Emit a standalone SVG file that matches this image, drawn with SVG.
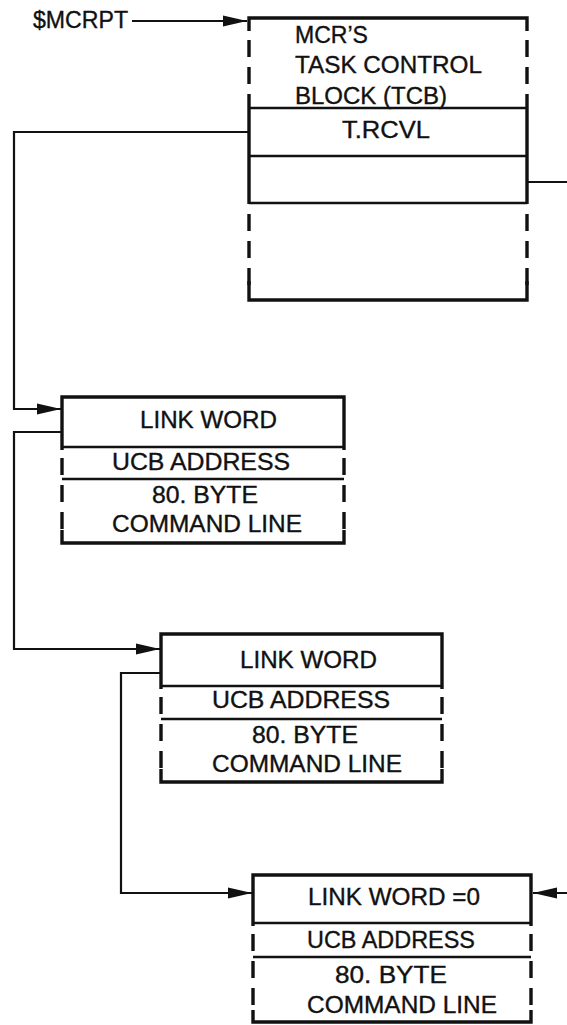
<svg xmlns="http://www.w3.org/2000/svg" width="567" height="1025" viewBox="0 0 567 1025">
  <style>
    .lbl { font-family: "Liberation Sans", Arial, sans-serif; font-size: 23px; fill: #111; stroke: #111; stroke-width: 0.35; }
    .edge { fill: none; stroke: #111; stroke-width: 3.4; stroke-linecap: butt; }
    .dash { fill: none; stroke: #111; stroke-width: 3.4; stroke-dasharray: 17 10; }
    .div { fill: none; stroke: #111; stroke-width: 2.6; }
    .conn { fill: none; stroke: #111; stroke-width: 2.2; }
  </style>
  <defs>
    <marker id="arrow" markerUnits="userSpaceOnUse" markerWidth="26" markerHeight="13" refX="24" refY="6" orient="auto">
      <path d="M0,0.5 L24,6 L0,11.5 Z" fill="#111"/>
    </marker>
  </defs>
  <rect width="567" height="1025" fill="#fff"/>

  <!-- pointer label -->
  <g id="mcrpt">
    <text class="lbl" x="33" y="28" textLength="95" lengthAdjust="spacingAndGlyphs">$MCRPT</text>
  </g>

  <!-- MCR task control block -->
  <g id="tcb">
    <path class="edge" d="M249,31 V18 H527 V31"/>
    <path class="dash" d="M249,40 V107 M527,40 V107"/>
    <path class="edge" d="M249,107 V204 M527,107 V204"/>
    <path class="dash" d="M249,214 V288 M527,214 V288"/>
    <path class="edge" d="M249,281 V300 H527 V281"/>
    <path class="div" d="M249,108 H527 M249,156 H527 M249,203 H527"/>
    <text class="lbl" x="295" y="43" textLength="73" lengthAdjust="spacingAndGlyphs">MCR’S</text>
    <text class="lbl" x="295" y="73" textLength="187" lengthAdjust="spacingAndGlyphs">TASK CONTROL</text>
    <text class="lbl" x="295" y="104" textLength="152" lengthAdjust="spacingAndGlyphs">BLOCK (TCB)</text>
    <text class="lbl" x="342" y="138" textLength="88" lengthAdjust="spacingAndGlyphs">T.RCVL</text>
  </g>

  <!-- first queued command -->
  <g id="node1">
    <path class="edge" d="M62,450 V397 H344 V450"/>
    <path class="dash" d="M62,458 V532 M344,458 V532"/>
    <path class="edge" d="M62,530 V543 H344 V530"/>
    <path class="div" d="M62,447 H344 M62,479 H344"/>
    <text class="lbl" x="140" y="428" textLength="137" lengthAdjust="spacingAndGlyphs">LINK WORD</text>
    <text class="lbl" x="112" y="470" textLength="178" lengthAdjust="spacingAndGlyphs">UCB ADDRESS</text>
    <text class="lbl" x="152" y="503" textLength="106" lengthAdjust="spacingAndGlyphs">80. BYTE</text>
    <text class="lbl" x="112" y="532" textLength="190" lengthAdjust="spacingAndGlyphs">COMMAND LINE</text>
  </g>

  <!-- second queued command -->
  <g id="node2">
    <path class="edge" d="M161,689 V634 H442 V689"/>
    <path class="dash" d="M161,697 V771 M442,697 V771"/>
    <path class="edge" d="M161,769 V782 H442 V769"/>
    <path class="div" d="M161,686 H442 M161,719 H442"/>
    <text class="lbl" x="240" y="668" textLength="137" lengthAdjust="spacingAndGlyphs">LINK WORD</text>
    <text class="lbl" x="212" y="708" textLength="178" lengthAdjust="spacingAndGlyphs">UCB ADDRESS</text>
    <text class="lbl" x="252" y="743" textLength="106" lengthAdjust="spacingAndGlyphs">80. BYTE</text>
    <text class="lbl" x="212" y="772" textLength="190" lengthAdjust="spacingAndGlyphs">COMMAND LINE</text>
  </g>

  <!-- last queued command -->
  <g id="node3">
    <path class="edge" d="M253,926 V875 H531 V926"/>
    <path class="dash" d="M253,934 V1012 M531,934 V1012"/>
    <path class="edge" d="M253,1010 V1022 H531 V1010"/>
    <path class="div" d="M253,923 H531 M253,957 H531"/>
    <text class="lbl" x="308" y="905" textLength="172" lengthAdjust="spacingAndGlyphs">LINK WORD =0</text>
    <text class="lbl" x="307" y="948" textLength="168" lengthAdjust="spacingAndGlyphs">UCB ADDRESS</text>
    <text class="lbl" x="335" y="983" textLength="112" lengthAdjust="spacingAndGlyphs">80. BYTE</text>
    <text class="lbl" x="307" y="1013" textLength="190" lengthAdjust="spacingAndGlyphs">COMMAND LINE</text>
  </g>

  <!-- list pointers -->
  <g id="connectors">
    <path class="conn" d="M132,21 H247" marker-end="url(#arrow)"/>
    <path class="conn" d="M249,132 H14 V409 H61" marker-end="url(#arrow)"/>
    <path class="conn" d="M62,432 H14 V649 H160" marker-end="url(#arrow)"/>
    <path class="conn" d="M161,673 H121 V893 H252" marker-end="url(#arrow)"/>
    <path class="conn" d="M527,182 H567"/>
    <path class="conn" d="M567,893 H533" marker-end="url(#arrow)"/>
  </g>
</svg>
